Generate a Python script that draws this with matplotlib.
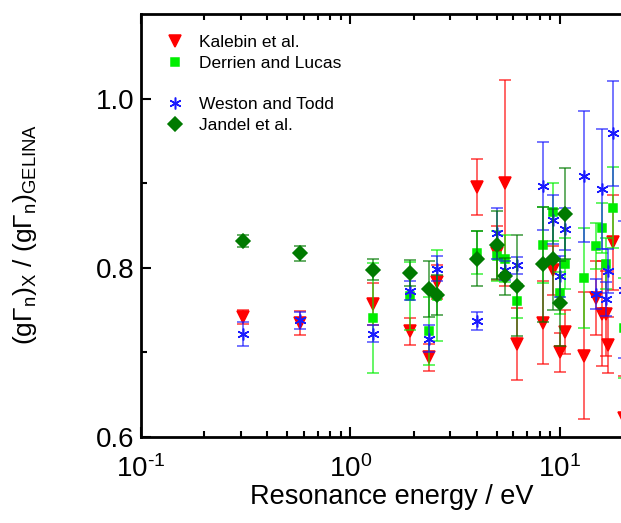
import numpy as np
from matplotlib import pyplot as plt
from matplotlib.lines import Line2D
from matplotlib.ticker import FuncFormatter

plt.rcParams['font.family'] = ['Liberation Sans', 'DejaVu Sans']
plt.rcParams['mathtext.fontset'] = 'custom'
plt.rcParams['mathtext.rm'] = 'Liberation Sans'
plt.rcParams['mathtext.it'] = 'Liberation Sans'
plt.rcParams['axes.unicode_minus'] = False

# resonance energies (eV), ratios and uncertainties
kalebin_E = [0.308, 0.576, 1.285, 1.93, 2.38, 2.60, 4.00, 5.02, 5.46, 6.21, 8.27,
             9.23, 10.0, 10.53, 13.06, 14.86, 15.92, 16.58, 17.0, 17.97, 20.2]
kalebin_v = [0.742, 0.735, 0.757, 0.725, 0.694, 0.783, 0.896, 0.818, 0.900, 0.710, 0.735,
             0.797, 0.700, 0.724, 0.696, 0.764, 0.746, 0.746, 0.709, 0.830, 0.622]
kalebin_err = [0.008, 0.014, 0.025, 0.016, 0.016, 0.02, 0.033, 0.032, 0.122, 0.043, 0.049,
               0.029, 0.023, 0.026, 0.075, 0.044, 0.062, 0.05, 0.033, 0.056, 0.05]

derrien_E = [1.285, 1.93, 2.38, 2.60, 4.00, 5.02, 5.46, 6.21, 8.27, 9.23, 10.0, 10.53,
             13.06, 14.86, 15.92, 16.58, 17.97, 20.2]
derrien_v = [0.741, 0.767, 0.725, 0.767, 0.818, 0.814, 0.811, 0.761, 0.827, 0.866, 0.770, 0.805,
             0.788, 0.826, 0.847, 0.805, 0.871, 0.729]
derrien_err = [0.065, 0.04, 0.04, 0.054, 0.025, 0.03, 0.028, 0.02, 0.045, 0.034, 0.025, 0.03,
               0.059, 0.027, 0.03, 0.03, 0.048, 0.059]

weston_E = [0.308, 0.576, 1.285, 1.93, 2.38, 2.60, 4.00, 5.02, 5.46, 6.21, 8.27,
            9.23, 10.0, 10.53, 13.06, 14.86, 15.92, 16.58, 17.0, 17.97, 20.2]
weston_v = [0.722, 0.738, 0.722, 0.773, 0.716, 0.799, 0.737, 0.841, 0.797, 0.803, 0.897,
            0.857, 0.790, 0.846, 0.908, 0.769, 0.893, 0.763, 0.796, 0.959, 0.774]
weston_err = [0.014, 0.01, 0.01, 0.011, 0.016, 0.015, 0.011, 0.03, 0.011, 0.01, 0.052,
              0.029, 0.024, 0.025, 0.077, 0.018, 0.071, 0.02, 0.026, 0.062, 0.081]

jandel_E = [0.308, 0.576, 1.285, 1.93, 2.38, 2.60, 4.00, 5.02, 5.46, 6.21, 8.27, 9.23, 10.0, 10.53]
jandel_v = [0.832, 0.817, 0.798, 0.794, 0.775, 0.768, 0.811, 0.827, 0.790, 0.779, 0.804, 0.810, 0.758, 0.864]
jandel_err = [0.007, 0.0085, 0.012, 0.015, 0.033, 0.024, 0.033, 0.04, 0.022, 0.06, 0.068, 0.06, 0.05, 0.054]

fig = plt.figure(figsize=(6.21, 5.23), dpi=100)
# axes deliberately runs past the right edge (the original is cropped)
ax = fig.add_axes([0.227, 0.1644, 1.012, 0.8088])

series = [
    (kalebin_E, kalebin_v, kalebin_err, '#ff0000', 'v', 8, 'Kalebin et al.'),
    (derrien_E, derrien_v, derrien_err, '#00ee00', 's', 6, 'Derrien and Lucas'),
    (weston_E, weston_v, weston_err, '#1a1aff', (6, 2, 0), 8.5, 'Weston and Todd'),
    (jandel_E, jandel_v, jandel_err, '#007a00', 'D', 7, 'Jandel et al.'),
]
handles = {}
for E, v, err, c, m, ms, lab in series:
    ax.errorbar(E, v, yerr=err, fmt='none', ecolor=c, elinewidth=1.2,
                capsize=4.5, capthick=1.2, alpha=0.7)
    h, = ax.plot(E, v, linestyle='none', marker=m, ms=ms, color=c,
                 mec=c, mew=1.1, label=lab)
    handles[lab] = h


def decade_label(x, pos):
    # labels past the cropped edge are left empty
    if x > 20:
        return ''
    return '10$^{\\text{%d}}$' % round(np.log10(x))


ax.set_xscale('log')
ax.set_xlim(0.1, 100)
ax.set_ylim(0.6, 1.1)
ax.xaxis.set_major_formatter(FuncFormatter(decade_label))
ax.set_yticks([0.6, 0.8, 1.0])
ax.set_yticks([0.7, 0.9], minor=True)
ax.tick_params(which='both', direction='in', top=True, right=False, width=1.5,
               labelsize=20)
ax.tick_params(axis='x', which='both', pad=13)
ax.tick_params(axis='y', which='both', pad=5)
ax.tick_params(which='major', length=7)
ax.tick_params(which='minor', length=4)
for s in ax.spines.values():
    s.set_linewidth(2)

ax.set_xlabel('Resonance energy / eV', fontsize=19.5)
ax.xaxis.set_label_coords((392 - 141) / 628.5, -0.112)
ax.set_ylabel('(gΓ$_\\mathrm{n}$)$_\\mathrm{X}$ / (gΓ$_\\mathrm{n}$)$_\\mathrm{GELINA}$',
              fontsize=19)
ax.yaxis.set_label_coords(-(141 - 39) / 628.5, (437 - 234) / 423)

blank = Line2D([], [], linestyle='none', marker='none')
leg_h = [handles['Kalebin et al.'], handles['Derrien and Lucas'], blank,
         handles['Weston and Todd'], handles['Jandel et al.']]
leg_l = ['Kalebin et al.', 'Derrien and Lucas', ' ', 'Weston and Todd', 'Jandel et al.']
ax.legend(leg_h, leg_l, loc='upper left', bbox_to_anchor=(156 / 621, 1 - 26 / 523),
          bbox_transform=fig.transFigure, frameon=False, fontsize=12.5,
          handlelength=1.2, handletextpad=0.8, labelspacing=0.33, borderpad=0)

fig.savefig('out.png', dpi=100)
